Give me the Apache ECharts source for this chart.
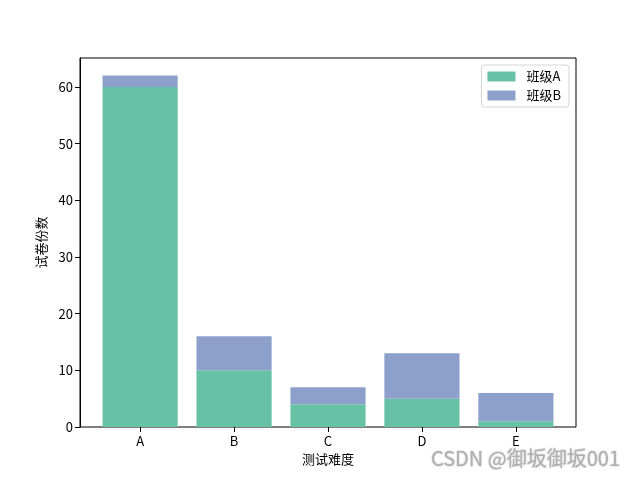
<!DOCTYPE html>
<html>
<head>
<meta charset="utf-8">
<script src="https://cdn.jsdelivr.net/npm/echarts@6/dist/echarts.min.js"></script>
<style>html,body{margin:0;padding:0;background:#fff}#c{width:640px;height:480px}</style>
</head>
<body>
<div id="c"></div>
<script>
const categories = ['A', 'B', 'C', 'D', 'E'];
const classA = [60, 10, 4, 5, 1];
const classB = [2, 6, 3, 8, 5];
const yTicks = [0, 10, 20, 30, 40, 50, 60];
const seriesNames = ['班级A', '班级B'];

const font = '"Noto Sans CJK SC", "DejaVu Sans", sans-serif';
// matplotlib-like x limits: -0.64 .. 4.64 over the 496px frame
const frameLeft = 80, frameWidth = 496, frameTop = 58, frameHeight = 369;
const pxPerUnit = frameWidth / 5.28;
const catLeft = frameLeft + (0.64 - 0.5) * pxPerUnit;
const catWidth = 5 * pxPerUnit;
const yMax = 65.1;

const chart = echarts.init(document.getElementById('c'), null, {renderer: 'canvas'});
chart.setOption({
  animation: false,
  backgroundColor: '#fff',
  textStyle: {fontFamily: font},
  grid: [
    {left: frameLeft, top: frameTop, width: frameWidth, height: frameHeight, show: true, borderColor: '#000', borderWidth: 1, backgroundColor: 'transparent'},
    {left: catLeft, top: frameTop, width: catWidth, height: frameHeight}
  ],
  legend: {
    orient: 'vertical', right: 71, top: 65,
    data: seriesNames,
    itemWidth: 28, itemHeight: 10, itemGap: 6,
    padding: [5, 8, 5, 6],
    backgroundColor: '#fff', borderColor: '#d5d5d5', borderWidth: 1, borderRadius: 3,
    icon: 'rect',
    textStyle: {fontFamily: font, fontSize: 13, color: '#000', padding: [0, 0, 0, 6]}
  },
  xAxis: [
    {gridIndex: 0, type: 'value', min: 0, max: 1, show: false},
    {
      gridIndex: 1, type: 'category', data: categories,
      name: '测试难度', nameLocation: 'middle', nameGap: 26,
      nameTextStyle: {fontFamily: font, fontSize: 13, color: '#000'},
      axisLine: {show: false},
      axisTick: {show: true, alignWithLabel: true, length: 5, lineStyle: {color: '#000'}},
      axisLabel: {color: '#000', fontFamily: font, fontSize: 13, margin: 8},
      splitLine: {show: false}
    }
  ],
  yAxis: [
    {
      gridIndex: 0, type: 'value', min: 0, max: yMax,
      name: '试卷份数', nameLocation: 'middle', nameGap: 30, nameRotate: 90,
      nameTextStyle: {fontFamily: font, fontSize: 13, color: '#000'},
      axisLine: {show: true, onZero: false, lineStyle: {color: '#000', width: 1}},
      axisTick: {show: true, length: 5, lineStyle: {color: '#000'}, customValues: yTicks},
      axisLabel: {show: true, customValues: yTicks, color: '#000', fontFamily: font, fontSize: 13, margin: 7},
      splitLine: {show: false}
    },
    {gridIndex: 1, type: 'value', min: 0, max: yMax, show: false, splitLine: {show: false}}
  ],
  series: [
    {name: seriesNames[0], type: 'bar', stack: 's', barWidth: '80%', xAxisIndex: 1, yAxisIndex: 1,
      itemStyle: {color: '#66c2a5'}, data: classA},
    {name: seriesNames[1], type: 'bar', stack: 's', barWidth: '80%', xAxisIndex: 1, yAxisIndex: 1,
      itemStyle: {color: '#8da0cb'}, data: classB}
  ],
  title: {
    text: 'CSDN @御坂御坂001', right: 14, bottom: 6,
    textStyle: {fontFamily: font, fontSize: 20, fontWeight: 'normal', color: '#b0b0b0',
      textBorderColor: '#fff', textBorderWidth: 1, textShadowColor: 'rgba(0,0,0,0.25)', textShadowBlur: 1}
  }
});
</script>
</body>
</html>
